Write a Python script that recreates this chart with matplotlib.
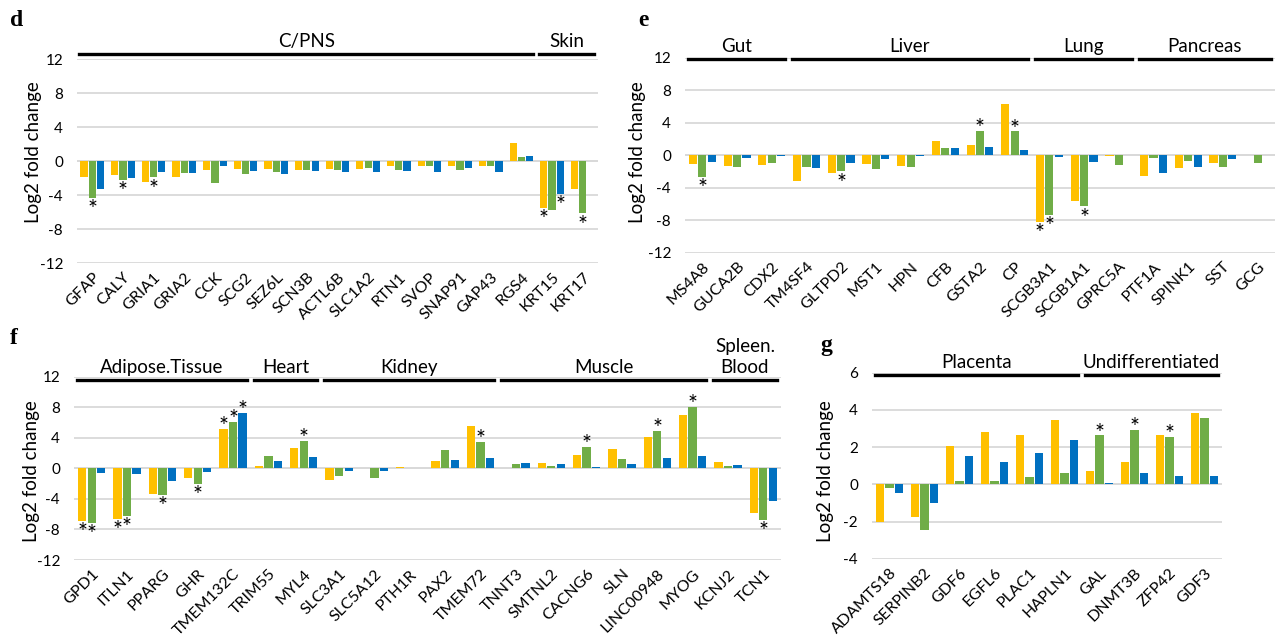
import numpy as np
import matplotlib
matplotlib.use("Agg")
import matplotlib.pyplot as plt
from matplotlib.transforms import blended_transform_factory, ScaledTranslation

plt.rcParams["font.family"] = ["Lato", "DejaVu Sans"]

W, H = 1287, 636
YELLOW, GREEN, BLUE = "#FFC000", "#70AD47", "#0070C0"
GRID = "#D9D9D9"

# -- panel d -----------------------------------------------------
d_genes = ["GFAP", "CALY", "GRIA1", "GRIA2", "CCK", "SCG2", "SEZ6L", "SCN3B",
           "ACTL6B", "SLC1A2", "RTN1", "SVOP", "SNAP91", "GAP43", "RGS4",
           "KRT15", "KRT17"]
d_yellow = [-1.8, -1.6, -2.4, -1.9, -1.0, -0.9, -0.9, -1.0, -0.9, -0.9,
            -0.5, -0.5, -0.5, -0.5, 2.1, -5.5, -3.2]
d_green = [-4.3, -2.2, -1.9, -1.4, -2.5, -1.5, -1.2, -1.0, -1.0, -0.8,
           -1.0, -0.6, -1.0, -0.5, 0.5, -5.7, -6.1]
d_blue = [-3.2, -2.0, -1.3, -1.4, -0.5, -1.1, -1.5, -1.1, -1.2, -1.2,
          -1.1, -1.3, -0.8, -1.2, 0.6, -3.8, 0.0]
d_stars = [("GFAP", 1), ("CALY", 1), ("GRIA1", 1), ("KRT15", 0),
           ("KRT15", 2), ("KRT17", 1)]
d_groups = ["C/PNS", "Skin"]
d_group_sizes = [15, 2]

# -- panel e -----------------------------------------------------
e_genes = ["MS4A8", "GUCA2B", "CDX2", "TM4SF4", "GLTPD2", "MST1", "HPN",
           "CFB", "GSTA2", "CP", "SCGB3A1", "SCGB1A1", "GPRC5A", "PTF1A",
           "SPINK1", "SST", "GCG"]
e_yellow = [-1.1, -1.3, -1.2, -3.2, -2.2, -1.1, -1.3, 1.8, 1.3, 6.3,
            -8.2, -5.6, -0.15, -2.6, -1.6, -1.0, 0.0]
e_green = [-2.65, -1.4, -1.0, -1.5, -2.0, -1.7, -1.4, 0.85, 3.0, 2.95,
           -7.3, -6.3, -1.2, -0.3, -0.7, -1.4, -0.9]
e_blue = [-0.85, -0.35, -0.1, -1.6, -0.9, -0.5, -0.05, 0.9, 1.05, 0.7,
          -0.25, -0.85, 0.0, -2.2, -1.4, -0.5, 0.0]
e_stars = [("MS4A8", 1), ("GLTPD2", 1), ("GSTA2", 1), ("CP", 1),
           ("SCGB3A1", 0), ("SCGB3A1", 1), ("SCGB1A1", 1)]
e_groups = ["Gut", "Liver", "Lung", "Pancreas"]
e_group_sizes = [3, 7, 3, 4]

# -- panel f -----------------------------------------------------
f_genes = ["GPD1", "ITLN1", "PPARG", "GHR", "TMEM132C", "TRIM55", "MYL4",
           "SLC3A1", "SLC5A12", "PTH1R", "PAX2", "TMEM72", "TNNT3",
           "SMTNL2", "CACNG6", "SLN", "LINC00948", "MYOG", "KCNJ2", "TCN1"]
f_yellow = [-6.9, -6.6, -3.3, -1.3, 5.2, 0.25, 2.6, -1.5, 0.0, 0.2, 0.95,
            5.6, 0.1, 0.7, 1.7, 2.55, 4.05, 7.0, 0.85, -5.9]
f_green = [-7.1, -6.2, -3.5, -2.05, 6.05, 1.6, 3.6, -1.0, -1.2, 0.1, 2.45,
           3.45, 0.6, 0.3, 2.8, 1.2, 4.95, 8.05, 0.3, -6.7]
f_blue = [-0.55, -0.8, -1.7, -0.5, 7.25, 0.9, 1.45, -0.3, -0.4, 0.1, 1.05,
          1.3, 0.7, 0.6, 0.2, 0.6, 1.35, 1.6, 0.5, -4.3]
f_stars = [("GPD1", 0), ("GPD1", 1), ("ITLN1", 0), ("ITLN1", 1),
           ("PPARG", 1), ("GHR", 1), ("TMEM132C", 0), ("TMEM132C", 1),
           ("TMEM132C", 2), ("MYL4", 1), ("TMEM72", 1), ("CACNG6", 1),
           ("LINC00948", 1), ("MYOG", 1), ("TCN1", 1)]
f_groups = ["Adipose.Tissue", "Heart", "Kidney", "Muscle", "Spleen.\nBlood"]
f_group_sizes = [5, 2, 5, 6, 2]

# -- panel g -----------------------------------------------------
g_genes = ["ADAMTS18", "SERPINB2", "GDF6", "EGFL6", "PLAC1", "HAPLN1",
           "GAL", "DNMT3B", "ZFP42", "GDF3"]
g_yellow = [-1.99, -1.72, 2.04, 2.84, 2.63, 3.48, 0.71, 1.23, 2.63, 3.86]
g_green = [-0.21, -2.47, 0.21, 0.18, 0.39, 0.64, 2.63, 2.92, 2.56, 3.59]
g_blue = [-0.44, -1.01, 1.51, 1.19, 1.71, 2.37, 0.1, 0.6, 0.43, 0.44]
g_stars = [("GAL", 1), ("DNMT3B", 1), ("ZFP42", 1)]
g_groups = ["Placenta", "Undifferentiated"]
g_group_sizes = [6, 4]


def px_rect(x0, y0, x1, y1):
    return [x0 / W, 1 - y1 / H, (x1 - x0) / W, (y1 - y0) / H]


def draw_panel(fig, rect, genes, series, stars, groups, sizes, ylim, yticks,
               line_y, letter, letter_xy, ylab_xy):
    ax = fig.add_axes(px_rect(*rect))
    x = np.arange(len(genes))
    off = 0.27
    colors = [YELLOW, GREEN, BLUE]
    for k, vals in enumerate(series):
        ax.bar(x + (k - 1) * off, vals, width=0.235, color=colors[k],
               zorder=3)
    for gene, k in stars:
        i = genes.index(gene)
        v = series[k][i]
        if v < 0:
            ax.annotate("*", (i + (k - 1) * off, v), xytext=(0, -1),
                        textcoords="offset points", ha="center", va="top",
                        fontsize=17, zorder=4)
        else:
            ax.annotate("*", (i + (k - 1) * off, v), xytext=(0, -6),
                        textcoords="offset points", ha="center",
                        va="bottom", fontsize=17, zorder=4)
    ax.set_xlim(-0.5, len(genes) - 0.5)
    ax.set_ylim(*ylim)
    ax.set_yticks(yticks)
    ax.set_yticklabels([str(t) for t in yticks], fontsize=11)
    ax.grid(axis="y", color=GRID, lw=1.3, zorder=0)
    ax.set_xticks(x)
    ax.set_xticklabels(genes, rotation=45, ha="right", va="top",
                       rotation_mode="anchor", fontsize=11.5)
    shift = ScaledTranslation(4 / 72, 0, fig.dpi_scale_trans)
    for lbl in ax.get_xticklabels():
        lbl.set_transform(lbl.get_transform() + shift)
    ax.tick_params(length=0)
    ax.tick_params(axis="x", pad=5)
    ax.tick_params(axis="y", pad=10)
    for sp in ax.spines.values():
        sp.set_visible(False)
    ax.axhline(0, color=GRID, lw=1.3, zorder=1)

    # group bars and labels above the plot area
    tr = blended_transform_factory(ax.transData, ax.transAxes)
    start = 0
    for name, n in zip(groups, sizes):
        a, b = start - 0.5 + 0.08, start + n - 0.5 - 0.12
        ax.plot([a, b], [line_y, line_y], color="black", lw=2.4,
                transform=tr, clip_on=False, zorder=5)
        ax.annotate(name, ((a + b) / 2, line_y), xycoords=tr,
                    xytext=(0, 3), textcoords="offset points",
                    ha="center", va="bottom", fontsize=13.5,
                    linespacing=1.25)
        start += n

    fig.text(letter_xy[0] / W, 1 - letter_xy[1] / H, letter,
             family="Liberation Serif", weight="bold", fontsize=17,
             ha="left", va="center")
    fig.text(ylab_xy[0] / W, 1 - ylab_xy[1] / H, "Log2 fold change",
             rotation=90, ha="center", va="center", fontsize=13.5)
    return ax


fig = plt.figure(figsize=(W / 100, H / 100), dpi=100)
fig.patch.set_facecolor("white")

ticks12 = [-12, -8, -4, 0, 4, 8, 12]
draw_panel(fig, (77, 59.3, 598, 263.3), d_genes, [d_yellow, d_green, d_blue],
           d_stars, d_groups, d_group_sizes, (-12, 12), ticks12, 1.026,
           "d", (10, 20), (33, 152))
draw_panel(fig, (685, 57.7, 1275, 252.7), e_genes, [e_yellow, e_green, e_blue],
           e_stars, e_groups, e_group_sizes, (-12, 12), ticks12, 0.995,
           "e", (638, 20), (638, 152))
draw_panel(fig, (74, 376.7, 781, 560), f_genes, [f_yellow, f_green, f_blue],
           f_stars, f_groups, f_group_sizes, (-12, 12), ticks12, 0.982,
           "f", (10, 338), (32, 471))
draw_panel(fig, (872, 372.7, 1222, 559), g_genes, [g_yellow, g_green, g_blue],
           g_stars, g_groups, g_group_sizes, (-4, 6), [-4, -2, 0, 2, 4, 6],
           0.988, "g", (820, 345), (825, 471))

plt.savefig("out.png", dpi=100, facecolor="white")
plt.close()
